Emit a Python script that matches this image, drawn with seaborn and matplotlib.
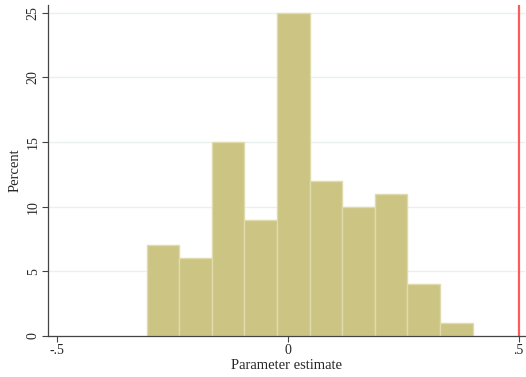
import numpy as np
import pandas as pd
import seaborn as sns
import matplotlib
matplotlib.use("Agg")
import matplotlib.pyplot as plt

# Histogram of parameter estimates (percent per bin)
bin_start = -0.306
bin_width = 0.0706
percent = [7, 6, 15, 9, 25, 12, 10, 11, 4, 1]
reference_value = 0.5
x_ticks = [-0.5, 0, 0.5]
x_tick_labels = ["-.5", "0", ".5"]
y_ticks = [0, 5, 10, 15, 20, 25]

n_bins = len(percent)
centers = bin_start + bin_width * (np.arange(n_bins) + 0.5)
df = pd.DataFrame({"estimate": centers, "percent": percent})

sns.set_style("white")
plt.rcParams["font.family"] = ["Liberation Serif", "DejaVu Serif"]

fig = plt.figure(figsize=(5.26, 3.77), dpi=100)
ax = fig.add_axes([0.0913, 0.1088, 0.907, 0.878])

ax.yaxis.grid(True, color="#eaf0ef", linewidth=1.0)
ax.set_axisbelow(True)

sns.histplot(data=df, x="estimate", weights="percent", bins=n_bins,
             binrange=(bin_start, bin_start + n_bins * bin_width), ax=ax,
             color="#cbc482", alpha=1.0, edgecolor="#e0dbac", linewidth=1.0)

ax.axvline(reference_value, color="#ff5a5a", linewidth=1.6)

ax.set_xlim(-0.52, 0.514)
ax.set_ylim(0, 25.6)
ax.set_xticks(x_ticks)
ax.set_xticklabels(x_tick_labels)
ax.set_yticks(y_ticks)
ax.set_yticklabels([str(v) for v in y_ticks], rotation=90, va="center")
ax.tick_params(axis="both", direction="out", length=4, width=0.8,
               color="#444444", labelsize=10, pad=2)
ax.tick_params(axis="x", bottom=True)
ax.tick_params(axis="y", left=True)

for side in ["top", "right"]:
    ax.spines[side].set_visible(False)
for side in ["left", "bottom"]:
    ax.spines[side].set_color("#444444")
    ax.spines[side].set_linewidth(0.9)

ax.set_xlabel("Parameter estimate", fontsize=10.5, labelpad=1)
ax.set_ylabel("Percent", fontsize=10.5, labelpad=4)

fig.savefig("out.png", dpi=100)
